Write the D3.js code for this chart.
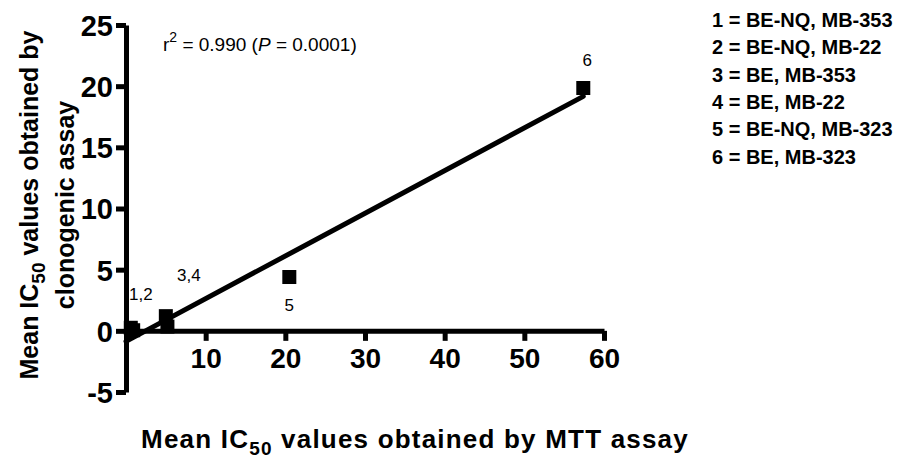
<!DOCTYPE html>
<html>
<head>
<meta charset="utf-8">
<script src="https://cdn.jsdelivr.net/npm/d3@7"></script>
<style>
  body { margin: 0; background: #fff; }
  svg { display: block; font-family: "Liberation Sans", Arial, sans-serif; }
  .tick text { font-family: "Liberation Sans Narrow", "Liberation Sans", Arial, sans-serif; font-weight: bold; }
</style>
</head>
<body>
<svg id="chart"></svg>
<script>
// data
const pointIds = ["1", "2", "3", "4", "5", "6"];
const mttIC50 = [0.6, 0.9, 5.0, 5.2, 20.5, 57.4];
const clonoIC50 = [0.25, 0.05, 1.2, 0.35, 4.4, 19.85];
const xTicks = [10, 20, 30, 40, 50, 60];
const yTicks = [-5, 0, 5, 10, 15, 20, 25];
const pointLabels = [
    { text: "1,2", at: 0, dx: 10, dy: -28 },
    { text: "3,4", at: 2, dx: 23, dy: -35 },
    { text: "5", at: 4, dx: 0, dy: 34 },
    { text: "6", at: 5, dx: 4, dy: -22 }
];
const legendLines = [
    "1 = BE-NQ, MB-353",
    "2 = BE-NQ, MB-22",
    "3 = BE, MB-353",
    "4 = BE, MB-22",
    "5 = BE-NQ, MB-323",
    "6 = BE, MB-323"
];

const W = 906, H = 462;
const margin = { top: 25, left: 126 },
    width = 478,
    height = 367;

const svg = d3.select("#chart").attr("width", W).attr("height", H);
const g = svg.append("g")
    .attr("transform", "translate(" + margin.left + "," + margin.top + ")");

const x = d3.scaleLinear().domain([0, 60]).range([0, width]);
const y = d3.scaleLinear().domain([-5, 25]).range([height, 0]);

// Y axis
const yAxis = g.append("g")
    .call(d3.axisLeft(y).tickValues(yTicks).tickFormat(d => String(d))
        .tickSize(10).tickPadding(3).tickSizeOuter(0));
yAxis.select(".domain").attr("stroke-width", 5).attr("stroke", "#000");
yAxis.selectAll(".tick line").attr("stroke-width", 5);
yAxis.selectAll(".tick text").attr("font-size", "29px").attr("dy", "0.36em");

// X axis, drawn at y = 0
const xAxis = g.append("g")
    .attr("transform", "translate(0," + y(0) + ")")
    .call(d3.axisBottom(x).tickValues(xTicks).tickSize(10).tickPadding(7).tickSizeOuter(0));
xAxis.select(".domain").attr("stroke-width", 5).attr("stroke", "#000");
xAxis.selectAll(".tick line").attr("stroke-width", 5);
xAxis.selectAll(".tick text").attr("font-size", "28px");

// least squares line from the points
const n = mttIC50.length;
const mx = d3.mean(mttIC50), my = d3.mean(clonoIC50);
let sxy = 0, sxx = 0;
for (let i = 0; i < n; i++) {
    sxy += (mttIC50[i] - mx) * (clonoIC50[i] - my);
    sxx += (mttIC50[i] - mx) * (mttIC50[i] - mx);
}
const slope = sxy / sxx, icpt = my - slope * mx;
const x0 = 0, x1 = d3.max(mttIC50);

g.append("line")
    .attr("x1", x(x0)).attr("y1", y(icpt + slope * x0))
    .attr("x2", x(x1)).attr("y2", y(icpt + slope * x1))
    .attr("stroke", "#000")
    .attr("stroke-width", 5)
    .attr("stroke-linecap", "round");

// points
const size = 14;
g.selectAll("rect.pt")
    .data(pointIds)
    .enter()
    .append("rect")
    .attr("class", "pt")
    .attr("x", (d, i) => x(mttIC50[i]) - size / 2)
    .attr("y", (d, i) => y(clonoIC50[i]) - size / 2)
    .attr("width", size)
    .attr("height", size)
    .attr("fill", "#000");

// point labels
g.selectAll("text.plab")
    .data(pointLabels)
    .enter()
    .append("text")
    .attr("class", "plab")
    .attr("x", d => x(mttIC50[d.at]) + d.dx)
    .attr("y", d => y(clonoIC50[d.at]) + d.dy)
    .attr("text-anchor", "middle")
    .attr("font-size", "17px")
    .text(d => d.text);

// r2 annotation
const ann = svg.append("text")
    .attr("x", 163)
    .attr("y", 51)
    .attr("font-size", "19px");
ann.append("tspan").text("r");
ann.append("tspan").attr("dy", -9).attr("font-size", "14px").text("2");
ann.append("tspan").attr("dy", 9).text(" = 0.990 (");
ann.append("tspan").attr("font-style", "italic").text("P");
ann.append("tspan").text(" = 0.0001)");

// x axis title
const xt = svg.append("text")
    .attr("x", 415)
    .attr("y", 448)
    .attr("text-anchor", "middle")
    .attr("font-size", "26px")
    .attr("font-weight", "bold")
    .attr("letter-spacing", "1.2px");
xt.append("tspan").text("Mean IC");
xt.append("tspan").attr("dy", 7).attr("font-size", "19px").text("50");
xt.append("tspan").attr("dy", -7).text(" values obtained by MTT assay");

// y axis title, two lines
const yt = svg.append("text")
    .attr("transform", "translate(38,205) rotate(-90)")
    .attr("text-anchor", "middle")
    .attr("font-size", "25px")
    .attr("font-weight", "bold");
yt.append("tspan").text("Mean IC");
yt.append("tspan").attr("dy", 7).attr("font-size", "19px").text("50");
yt.append("tspan").attr("dy", -7).text(" values obtained by");
svg.append("text")
    .attr("transform", "translate(74,205) rotate(-90)")
    .attr("text-anchor", "middle")
    .attr("font-size", "25px")
    .attr("font-weight", "bold")
    .text("clonogenic assay");

// legend
svg.selectAll("text.leg")
    .data(legendLines)
    .enter()
    .append("text")
    .attr("class", "leg")
    .attr("x", 712)
    .attr("y", (d, i) => 27 + i * 27.3)
    .attr("font-size", "20px")
    .attr("font-weight", "bold")
    .text(d => d);
</script>
</body>
</html>
